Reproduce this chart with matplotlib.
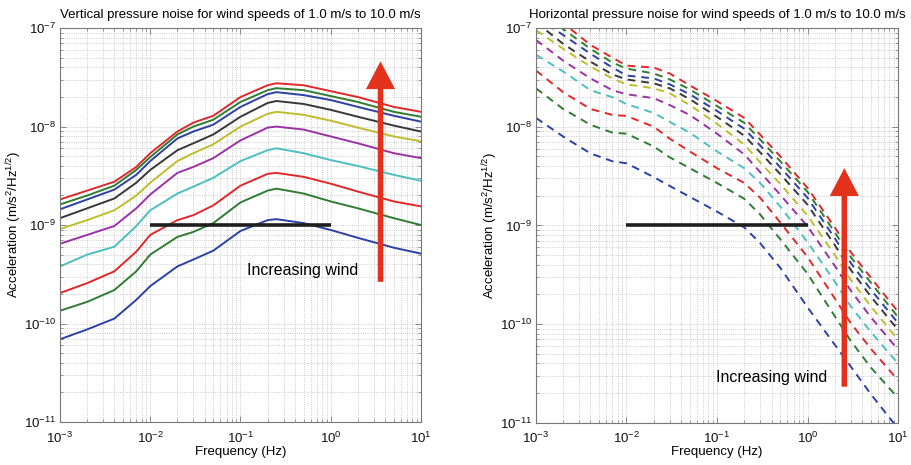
import numpy as np
import matplotlib
matplotlib.use("Agg")
import matplotlib.pyplot as plt

# frequency grids (Hz) at which the curves were read
freq_v = [1e-3, 2e-3, 4e-3, 7e-3, 1e-2, 2e-2, 3e-2, 5e-2, 0.1, 0.2, 0.25, 0.5, 1, 2, 5, 10]
freq_h = [1e-3, 2e-3, 4e-3, 7e-3, 1e-2, 2e-2, 3e-2, 5e-2, 0.1, 0.2, 0.3, 0.5, 1, 2, 3, 5, 10]

# vertical pressure noise, log10(m/s^2/Hz^1/2), wind speed 1..10 m/s
v01 = [-10.16, -10.06, -9.95, -9.76, -9.62, -9.42, -9.35, -9.26, -9.06, -8.95, -8.94, -8.98, -9.05, -9.13, -9.23, -9.29]
v02 = [-9.87, -9.78, -9.66, -9.47, -9.30, -9.12, -9.07, -8.98, -8.77, -8.65, -8.63, -8.68, -8.76, -8.83, -8.93, -9.00]
v03 = [-9.69, -9.59, -9.47, -9.27, -9.10, -8.95, -8.90, -8.80, -8.60, -8.48, -8.47, -8.51, -8.58, -8.66, -8.76, -8.81]
v04 = [-9.42, -9.30, -9.22, -9.01, -8.85, -8.68, -8.61, -8.52, -8.35, -8.24, -8.22, -8.27, -8.34, -8.40, -8.49, -8.55]
v05 = [-9.19, -9.10, -9.01, -8.83, -8.69, -8.47, -8.41, -8.32, -8.14, -8.01, -8.00, -8.03, -8.10, -8.17, -8.27, -8.32]
v06 = [-9.04, -8.95, -8.85, -8.70, -8.57, -8.35, -8.27, -8.18, -8.00, -7.87, -7.85, -7.88, -7.94, -8.01, -8.10, -8.15]
v07 = [-8.93, -8.83, -8.73, -8.57, -8.44, -8.24, -8.17, -8.08, -7.90, -7.76, -7.74, -7.77, -7.83, -7.90, -7.99, -8.05]
v08 = [-8.84, -8.74, -8.64, -8.49, -8.35, -8.12, -8.05, -7.98, -7.80, -7.67, -7.65, -7.68, -7.73, -7.80, -7.89, -7.95]
v09 = [-8.79, -8.70, -8.60, -8.44, -8.31, -8.08, -8.00, -7.93, -7.75, -7.63, -7.61, -7.63, -7.69, -7.75, -7.85, -7.90]
v10 = [-8.74, -8.65, -8.56, -8.41, -8.27, -8.05, -7.96, -7.89, -7.70, -7.58, -7.56, -7.58, -7.64, -7.70, -7.80, -7.85]

# horizontal pressure noise, log10(m/s^2/Hz^1/2), wind speed 1..10 m/s
h01 = [-7.91, -8.10, -8.27, -8.35, -8.37, -8.51, -8.60, -8.71, -8.86, -9.02, -9.18, -9.43, -9.83, -10.21, -10.43, -10.71, -11.06]
h02 = [-7.61, -7.82, -7.98, -8.06, -8.07, -8.20, -8.31, -8.42, -8.57, -8.73, -8.89, -9.14, -9.49, -9.92, -10.17, -10.44, -10.75]
h03 = [-7.43, -7.65, -7.82, -7.88, -7.89, -8.00, -8.12, -8.25, -8.42, -8.57, -8.72, -8.97, -9.32, -9.74, -9.99, -10.25, -10.57]
h04 = [-7.27, -7.44, -7.63, -7.70, -7.77, -7.86, -7.95, -8.06, -8.25, -8.42, -8.57, -8.81, -9.17, -9.57, -9.82, -10.08, -10.40]
h05 = [-7.12, -7.33, -7.51, -7.63, -7.67, -7.71, -7.78, -7.88, -8.07, -8.28, -8.46, -8.69, -9.01, -9.41, -9.66, -9.93, -10.26]
h06 = [-7.02, -7.21, -7.39, -7.51, -7.57, -7.61, -7.66, -7.78, -7.97, -8.18, -8.36, -8.58, -8.90, -9.30, -9.55, -9.82, -10.16]
h07 = [-6.94, -7.16, -7.34, -7.47, -7.52, -7.56, -7.61, -7.72, -7.90, -8.09, -8.26, -8.48, -8.79, -9.20, -9.45, -9.72, -10.06]
h08 = [-6.89, -7.07, -7.26, -7.40, -7.48, -7.51, -7.57, -7.67, -7.84, -8.02, -8.19, -8.41, -8.72, -9.13, -9.38, -9.65, -9.99]
h09 = [-6.84, -7.01, -7.21, -7.35, -7.41, -7.46, -7.52, -7.62, -7.79, -7.96, -8.13, -8.35, -8.66, -9.07, -9.32, -9.58, -9.93]
h10 = [-6.79, -6.95, -7.17, -7.30, -7.38, -7.40, -7.46, -7.58, -7.74, -7.91, -8.08, -8.30, -8.62, -9.02, -9.27, -9.53, -9.875]

vert = [v01, v02, v03, v04, v05, v06, v07, v08, v09, v10]
horiz = [h01, h02, h03, h04, h05, h06, h07, h08, h09, h10]

# old matlab line order
COLS = ["#2d40a3", "#2f7d33", "#e0282b", "#4dbfbf", "#9a32a6", "#bdbd2d", "#383838",
        "#2d40a3", "#2f7d33", "#e0282b"]
ARROW = "#e2321c"

plt.rcParams.update({"font.family": ["Liberation Sans", "DejaVu Sans"], "font.size": 9,
                     "mathtext.fontset": "custom", "mathtext.rm": "Liberation Sans",
                     "mathtext.it": "Liberation Sans:italic", "mathtext.default": "regular",
                     "xtick.direction": "in", "ytick.direction": "in",
                     "xtick.top": True, "ytick.right": True,
                     "xtick.labelsize": 9.5, "ytick.labelsize": 9.5,
                     "axes.edgecolor": "#777777", "xtick.color": "#777777", "ytick.color": "#777777",
                     "xtick.labelcolor": "#111111", "ytick.labelcolor": "#111111"})

fig = plt.figure(figsize=(9.12, 4.65), dpi=100)
axL = fig.add_axes([0.0658, 0.0925, 0.3958, 0.847])
axR = fig.add_axes([0.5877, 0.0910, 0.3970, 0.8485])


def setup(ax, title):
    ax.set_xscale("log"); ax.set_yscale("log")
    ax.set_xlim(1e-3, 10); ax.set_ylim(1e-11, 1e-7)
    ax.grid(True, which="both", ls=":", lw=0.6, color="#bdbdbd")
    ax.set_axisbelow(True)
    ax.tick_params(which="major", length=4, width=0.6)
    ax.tick_params(which="minor", length=2, width=0.5)
    ax.tick_params(axis="x", which="major", pad=6)
    ax.tick_params(axis="y", which="major", pad=3)
    ax.set_xticks([1e-3, 1e-2, 1e-1, 1, 10])
    ax.set_yticks([1e-11, 1e-10, 1e-9, 1e-8, 1e-7])
    ax.set_xlabel("Frequency (Hz)", fontsize=9.5, labelpad=0)
    ax.set_ylabel(r"Acceleration (m/s$^2$/Hz$^{1/2}$)", fontsize=9.5)
    ax.yaxis.set_label_coords(-0.10, 0.5)
    ax.set_title(title, fontsize=9.5, pad=7)


setup(axL, "Vertical pressure noise for wind speeds of 1.0 m/s to 10.0 m/s")
setup(axR, "Horizontal pressure noise for wind speeds of 1.0 m/s to 10.0 m/s")

for k, s in enumerate(vert):
    axL.plot(freq_v, 10.0 ** np.array(s), color=COLS[k], lw=1.4)
for k, s in enumerate(horiz):
    axR.plot(freq_h, 10.0 ** np.array(s), color=COLS[k], lw=1.4, ls=(0, (4, 3)))

# 1e-9 reference line, 10 mHz - 1 Hz
for ax in (axL, axR):
    ax.plot([1e-2, 1], [1e-9, 1e-9], color="#1e1e1e", lw=2.6, solid_capstyle="butt")

# "increasing wind" arrows
arr = dict(width=4, headwidth=21, headlength=20, facecolor=ARROW, edgecolor="none", shrink=0)
axL.annotate("", xy=(3.56, 4.6e-8), xytext=(3.56, 2.65e-10), arrowprops=arr)
axL.text(0.117, 10 ** -9.46, "Increasing wind", fontsize=11.5, va="center", ha="left")
axR.annotate("", xy=(2.55, 10 ** -8.42), xytext=(2.55, 10 ** -10.635), arrowprops=arr)
axR.text(0.098, 10 ** -10.54, "Increasing wind", fontsize=11.5, va="center", ha="left")

plt.savefig("out.png", dpi=100)
